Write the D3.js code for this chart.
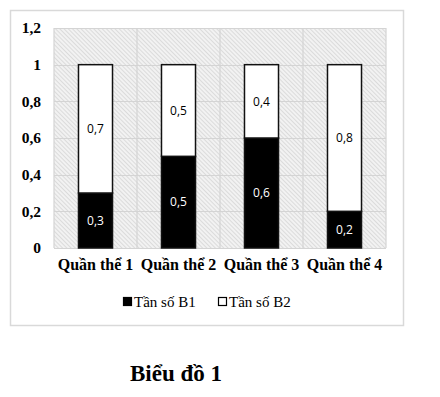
<!DOCTYPE html>
<html>
<head>
<meta charset="utf-8">
<script src="https://cdn.jsdelivr.net/npm/d3@7"></script>
<style>
  body { margin: 0; background: #fff; }
  svg { display: block; }
</style>
</head>
<body>
<div id="chart"></div>
<script>
var categories = ['Quần thể 1', 'Quần thể 2', 'Quần thể 3', 'Quần thể 4'];
var seriesNames = ['Tần số B1', 'Tần số B2'];
var b1 = [0.3, 0.5, 0.6, 0.2];
var b2 = [0.7, 0.5, 0.4, 0.8];
var yTicks = [0, 0.2, 0.4, 0.6, 0.8, 1, 1.2];

var vWidth = 440,
  vHeight = 397,
  margin = { top: 28, right: 54, bottom: 149, left: 54 },
  width = vWidth - margin.left - margin.right,
  height = vHeight - margin.top - margin.bottom;

var fmt = function(v) {
  return String(+v.toFixed(1)).replace('.', ',');
};

var svg = d3
  .select('#chart')
  .append('svg')
  .attr('width', vWidth)
  .attr('height', vHeight);

var defs = svg.append('defs');
var pat = defs
  .append('pattern')
  .attr('id', 'hatch')
  .attr('patternUnits', 'userSpaceOnUse')
  .attr('width', 3)
  .attr('height', 3)
  .attr('patternTransform', 'rotate(-45)');
pat.append('rect').attr('width', 3).attr('height', 3).attr('fill', '#f2f2f2');
pat
  .append('line')
  .attr('x1', 0)
  .attr('y1', 0)
  .attr('x2', 0)
  .attr('y2', 3)
  .attr('stroke', '#cccccc')
  .attr('stroke-width', 1.2);

// chart border
svg
  .append('rect')
  .attr('x', 10.5)
  .attr('y', 10.5)
  .attr('width', 393)
  .attr('height', 315)
  .attr('fill', '#fff')
  .attr('stroke', '#d9d9d9')
  .attr('stroke-width', 1.5);

var g = svg
  .append('g')
  .attr('transform', 'translate(' + margin.left + ',' + margin.top + ')');

var x = d3
  .scaleBand()
  .domain(categories)
  .range([0, width])
  .paddingInner(0.59)
  .paddingOuter(0.295);

var band = d3.scaleBand().domain(categories).range([0, width]);

var y = d3.scaleLinear().domain([0, 1.2]).range([height, 0]);

g.append('rect')
  .attr('width', width)
  .attr('height', height)
  .attr('fill', 'url(#hatch)');

// grid
g.selectAll('.hgrid')
  .data(yTicks)
  .enter()
  .append('line')
  .attr('x1', 0)
  .attr('x2', width)
  .attr('y1', function(d) { return Math.round(y(d)) + 0.5; })
  .attr('y2', function(d) { return Math.round(y(d)) + 0.5; })
  .attr('stroke', '#d4d4d4')
  .attr('stroke-width', 1.2);

g.selectAll('.vgrid')
  .data(categories.concat(['end']))
  .enter()
  .append('line')
  .attr('x1', function(d, i) { return i < 4 ? band(d) : width; })
  .attr('x2', function(d, i) { return i < 4 ? band(d) : width; })
  .attr('y1', 0)
  .attr('y2', height)
  .attr('stroke', '#d4d4d4')
  .attr('stroke-width', 1.2);

// y axis labels
var yAxis = g.append('g')
  .attr('class', 'y-axis')
  .call(d3.axisLeft(y).tickValues(yTicks).tickSize(0).tickPadding(13).tickFormat(fmt));
yAxis.select('.domain').remove();
yAxis.selectAll('text')
  .attr('fill', '#000')
  .style('font-family', '"Liberation Serif", serif')
  .style('font-weight', 'bold')
  .style('font-size', '15.5px');

// x axis labels
var xAxis = g.append('g')
  .attr('transform', 'translate(0,' + height + ')')
  .call(d3.axisBottom(band).tickSize(0).tickPadding(11));
xAxis.select('.domain').remove();
xAxis.selectAll('text')
  .attr('fill', '#000')
  .style('font-family', '"Liberation Serif", serif')
  .style('font-weight', 'bold')
  .style('font-size', '16px');

// bars
var stacks = categories.map(function(c, i) {
  return [
    { cat: c, y0: 0, y1: b1[i], v: b1[i], s: 0 },
    { cat: c, y0: b1[i], y1: b1[i] + b2[i], v: b2[i], s: 1 }
  ];
});
var segs = [].concat.apply([], stacks);

g.selectAll('.bar')
  .data(segs)
  .enter()
  .append('rect')
  .attr('class', 'bar')
  .attr('x', function(d) { return x(d.cat); })
  .attr('y', function(d) { return y(d.y1); })
  .attr('width', x.bandwidth())
  .attr('height', function(d) { return y(d.y0) - y(d.y1); })
  .attr('fill', function(d) { return d.s === 0 ? '#000' : '#fff'; })
  .attr('stroke', '#111')
  .attr('stroke-width', 1.5);

g.selectAll('.label')
  .data(segs)
  .enter()
  .append('text')
  .attr('class', 'label')
  .attr('x', function(d) { return x(d.cat) + x.bandwidth() / 2; })
  .attr('y', function(d) { return (y(d.y0) + y(d.y1)) / 2; })
  .attr('dy', '0.35em')
  .attr('text-anchor', 'middle')
  .attr('fill', function(d) { return d.s === 0 ? '#fff' : '#000'; })
  .style('font-family', '"Open Sans", "DejaVu Sans", sans-serif')
  .style('font-size', '12px')
  .text(function(d) { return fmt(d.v); });

// legend
var legend = svg.append('g').attr('transform', 'translate(123,302)');
var legX = [0, 95];
seriesNames.forEach(function(name, i) {
  var lg = legend.append('g').attr('transform', 'translate(' + legX[i] + ',0)');
  lg.append('rect')
    .attr('x', 0.5)
    .attr('y', -4.5)
    .attr('width', 8)
    .attr('height', 8)
    .attr('fill', i === 0 ? '#000' : '#fff')
    .attr('stroke', '#000')
    .attr('stroke-width', 1.2);
  lg.append('text')
    .attr('x', 11)
    .attr('y', 0)
    .attr('dy', '0.35em')
    .style('font-family', '"Liberation Serif", serif')
    .style('font-size', '15px')
    .text(name);
});

// caption
svg.append('text')
  .attr('x', 176)
  .attr('y', 373)
  .attr('dy', '0.35em')
  .attr('text-anchor', 'middle')
  .style('font-family', '"Liberation Serif", serif')
  .style('font-weight', 'bold')
  .style('font-size', '23px')
  .text('Biểu đồ 1');
</script>
</body>
</html>
